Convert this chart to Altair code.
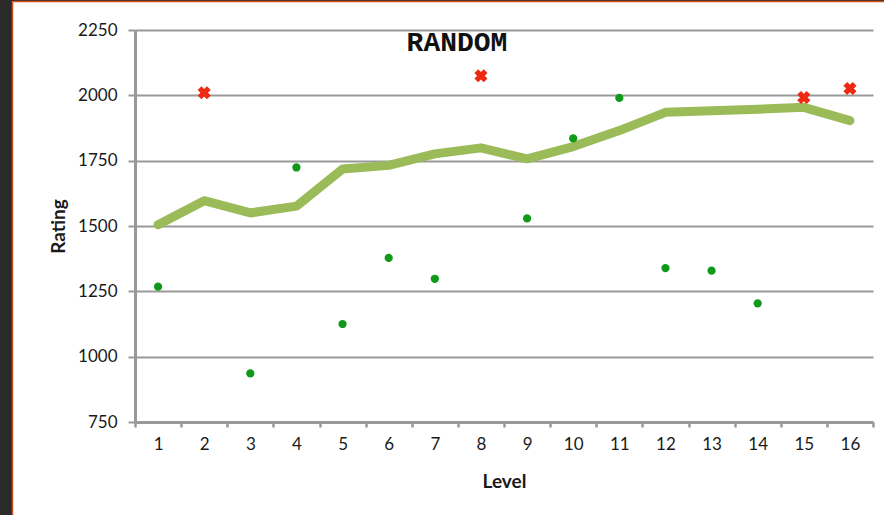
import altair as alt
import pandas as pd

# Level categories
levels = list(range(1, 16 + 1))

# Smoothed rating trend per level
trend_rating = [1505, 1597, 1550, 1576, 1718, 1732, 1776, 1799, 1757, 1804,
                1865, 1935, 1941, 1947, 1954, 1903]

# Individual game results
win_levels = [1, 3, 4, 5, 6, 7, 9, 10, 11, 12, 13, 14]
win_rating = [1268, 936, 1724, 1125, 1378, 1298, 1529, 1835, 1990, 1339, 1329, 1204]

loss_levels = [2, 8, 15, 16]
loss_rating = [2010, 2075, 1992, 2026]

y_ticks = [750, 1000, 1250, 1500, 1750, 2000, 2250]

W, H = 738, 392
PAD = {"left": 135, "top": 30, "right": 11, "bottom": 93}

trend_df = pd.DataFrame({"level": levels, "rating": trend_rating})
win_df = pd.DataFrame({"level": win_levels, "rating": win_rating})
loss_df = pd.DataFrame({"level": loss_levels, "rating": loss_rating})

x_enc = alt.X(
    "level:O",
    scale=alt.Scale(type="band", domain=levels, paddingInner=0, paddingOuter=0),
    axis=alt.Axis(
        title="Level", labelAngle=0, tickBand="extent", grid=False,
        domainColor="#999999", domainWidth=3, tickColor="#999999",
        tickWidth=2.5, tickSize=5, labelPadding=9,
        labelFont="Lato", labelFontSize=17, labelColor="#1a1a1a",
        titleFont="Lato", titleFontSize=19, titleFontWeight="bold",
        titleColor="#1a1a1a", titleX=369, titleY=59,
        titleBaseline="middle", titleAlign="center",
    ),
)

y_scale = alt.Scale(domain=[750, 2250], nice=False, zero=False)
y_axis = alt.Axis(
    title="Rating", values=y_ticks, format="d", grid=True, gridColor="#999999",
    gridWidth=2, domainColor="#999999", domainWidth=3,
    tickColor="#999999", tickWidth=2, tickSize=7, labelPadding=11,
    labelFont="Lato", labelFontSize=17, labelColor="#1a1a1a",
    titleFont="Lato", titleFontSize=19, titleFontWeight="bold",
    titleColor="#1a1a1a", titleX=-77, titleY=196, titleAngle=-90,
    titleBaseline="middle", titleAlign="center",
)

trend = alt.Chart(trend_df).mark_line(
    color="#9bbb59", strokeWidth=9, strokeCap="round", strokeJoin="round"
).encode(x=x_enc, y=alt.Y("rating:Q", scale=y_scale, axis=y_axis))

wins = alt.Chart(win_df).mark_point(
    filled=True, shape="circle", size=68, color="#119a1a", opacity=1
).encode(x=alt.X("level:O"), y=alt.Y("rating:Q"))

losses = alt.Chart(loss_df).mark_point(
    filled=True, shape="cross", angle=45, size=175, color="#ee2a12", opacity=1
).encode(x=alt.X("level:O"), y=alt.Y("rating:Q"))

title_df = pd.DataFrame({"t": ["RANDOM"]})
title = alt.Chart(title_df).mark_text(
    font="Liberation Mono", fontWeight="bold", fontSize=28, color="#111111",
    align="center", baseline="alphabetic"
).encode(text="t:N", x=alt.value(322), y=alt.value(21))

# Slide frame: dark margin with an orange edge on the left and top
frame_df = pd.DataFrame({"k": [0]})
dark_left = alt.Chart(frame_df).mark_rect(color="#2a2a2a").encode(
    x=alt.value(-135), x2=alt.value(-123), y=alt.value(-30), y2=alt.value(485))
dark_top = alt.Chart(frame_df).mark_rect(color="#2a2a2a").encode(
    x=alt.value(-135), x2=alt.value(749), y=alt.value(-30), y2=alt.value(-29))
edge_left = alt.Chart(frame_df).mark_rule(color="#d2501e", strokeWidth=1.5).encode(
    x=alt.value(-122.5), y=alt.value(-28.5), y2=alt.value(485))
edge_top = alt.Chart(frame_df).mark_rule(color="#d2501e", strokeWidth=1.5).encode(
    x=alt.value(-122.5), x2=alt.value(749), y=alt.value(-28.5))

chart = alt.layer(
    dark_left, dark_top, edge_left, edge_top, trend, wins, losses, title
).properties(
    width=W, height=H, autosize=alt.AutoSizeParams(type="none"), padding=PAD
).configure(background="white").configure_view(stroke=None)

chart.save("out.html", embed_options={"renderer": "svg", "actions": False})
